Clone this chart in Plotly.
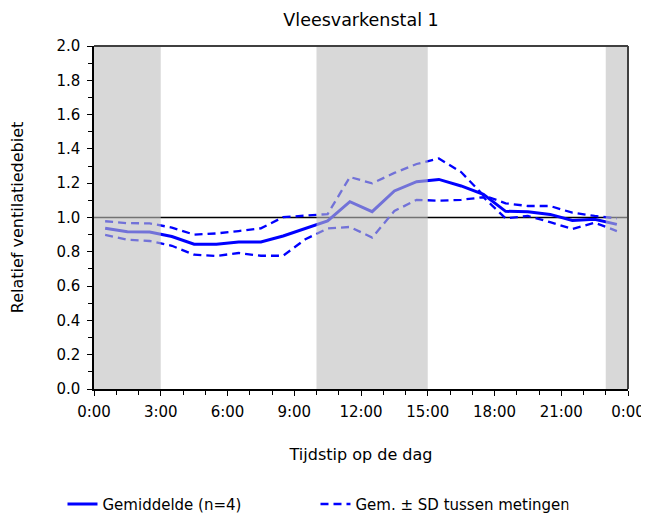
import plotly.graph_objects as go

hours = [h + 0.5 for h in range(24)]
mean_vals = [0.937, 0.917, 0.915, 0.889, 0.844, 0.844, 0.857, 0.857, 0.892, 0.935, 0.980, 1.092,
             1.034, 1.155, 1.209, 1.222, 1.184, 1.135, 1.036, 1.034, 1.018, 0.983, 0.990, 0.960]
upper_vals = [0.978, 0.967, 0.966, 0.941, 0.900, 0.907, 0.921, 0.937, 1.002, 1.010, 1.020, 1.236,
              1.199, 1.260, 1.312, 1.344, 1.265, 1.130, 1.083, 1.067, 1.067, 1.028, 1.009, 0.995]
lower_vals = [0.898, 0.870, 0.863, 0.835, 0.783, 0.776, 0.793, 0.777, 0.777, 0.873, 0.936, 0.945,
              0.883, 1.038, 1.103, 1.098, 1.103, 1.118, 0.995, 1.009, 0.973, 0.933, 0.970, 0.921]
tick_vals = [0, 3, 6, 9, 12, 15, 18, 21, 24]
tick_text = ["0:00", "3:00", "6:00", "9:00", "12:00", "15:00", "18:00", "21:00", "0:00"]
gray_bands = [(0, 3), (10, 15), (23, 24)]

FONT = "DejaVu Sans"
BLUE = "#0000FF"

fig = go.Figure()
fig.add_trace(go.Scatter(x=hours, y=mean_vals, mode="lines", name="Gemiddelde (n=4)",
                         line=dict(color=BLUE, width=3)))
fig.add_trace(go.Scatter(x=hours, y=upper_vals, mode="lines", name="Gem. ± SD tussen metingen",
                         line=dict(color=BLUE, width=2.3, dash="8px,5px")))
fig.add_trace(go.Scatter(x=hours, y=lower_vals, mode="lines", showlegend=False,
                         line=dict(color=BLUE, width=2.3, dash="8px,5px")))

shapes = [dict(type="line", xref="x", yref="y", x0=0, x1=24, y0=1, y1=1,
               line=dict(color="black", width=1.5), layer="below")]
for a, b in gray_bands:
    shapes.append(dict(type="rect", xref="x", yref="y", x0=a, x1=b, y0=0, y1=2,
                       fillcolor="rgba(190,190,190,0.6)", line=dict(width=0), layer="above"))
shapes.append(dict(type="line", xref="paper", yref="paper", x0=0, x1=1, y0=1, y1=1,
                   line=dict(color="#404040", width=2), layer="above"))
shapes.append(dict(type="line", xref="paper", yref="paper", x0=1, x1=1, y0=0, y1=1,
                   line=dict(color="#404040", width=2), layer="above"))

fig.update_layout(
    width=641, height=508,
    margin=dict(l=86, r=21, t=38, b=127, autoexpand=False),
    paper_bgcolor="white", plot_bgcolor="white",
    font=dict(family=FONT, size=15, color="black"),
    title=dict(text="Vleesvarkenstal 1", x=353 / 641, xanchor="center",
               y=0.976, yanchor="middle", font=dict(family=FONT, size=17.5, color="black")),
    shapes=shapes,
    showlegend=True,
    legend=dict(orientation="h", x=-0.059, xanchor="left", y=-0.336, yanchor="middle",
                font=dict(family=FONT, size=15, color="black"),
                entrywidth=208, entrywidthmode="pixels", bgcolor="rgba(0,0,0,0)"),
)
fig.update_xaxes(range=[0, 24], tickvals=tick_vals, ticktext=tick_text, automargin=False,
                 showgrid=False, zeroline=False, showline=True, linecolor="black", linewidth=1.5,
                 ticks="outside", ticklen=5, tickcolor="black", ticklabelstandoff=3,
                 minor=dict(dtick=1, ticks="outside", ticklen=4, tickcolor="black"),
                 title=dict(text="Tijdstip op de dag", standoff=29, font=dict(size=16)),
                 tickfont=dict(size=15))
fig.update_yaxes(range=[0, 2], dtick=0.2, tickformat=".1f", automargin=False,
                 showgrid=False, zeroline=False, showline=True, linecolor="black", linewidth=1.5,
                 ticks="outside", ticklen=5, tickcolor="black", ticklabelstandoff=4,
                 minor=dict(dtick=0.1, ticks="outside", ticklen=4, tickcolor="black"),
                 title=dict(text="Relatief ventilatiedebiet", standoff=30, font=dict(size=16)),
                 tickfont=dict(size=15))

fig.write_html("out.html")
